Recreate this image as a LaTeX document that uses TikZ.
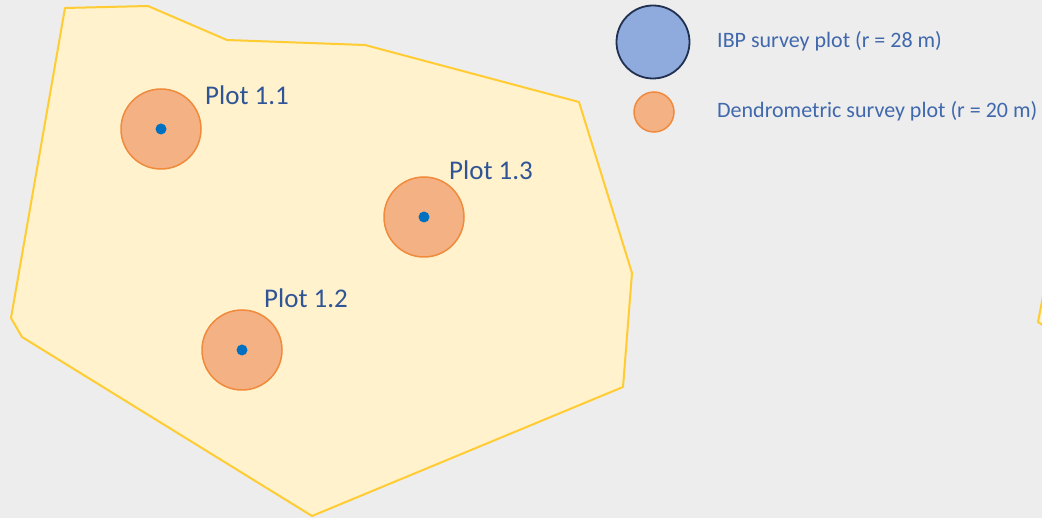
\documentclass[tikz,border=0pt]{standalone}
\usepackage{fontspec}
\setmainfont{Carlito}
\definecolor{bg}{HTML}{EDEDED}
\definecolor{areafill}{HTML}{FFF2CC}
\definecolor{areaedge}{HTML}{FFCC33}
\definecolor{plotfill}{HTML}{F4B183}
\definecolor{plotedge}{HTML}{F08A3C}
\definecolor{dotblue}{HTML}{0070C0}
\definecolor{ibpfill}{HTML}{8FAADC}
\definecolor{ibpedge}{HTML}{1F3050}
\definecolor{labelblue}{HTML}{2F5597}
\definecolor{legendblue}{HTML}{4068AC}
\begin{document}
\begin{tikzpicture}[x=1pt,y=-1pt,
  area/.style={fill=areafill,draw=areaedge,line width=2pt,line join=round},
  dplot/.style={circle,fill=plotfill,draw=plotedge,line width=1.5pt,minimum size=80pt,inner sep=0pt},
  cdot/.style={circle,fill=dotblue,minimum size=11pt,inner sep=0pt},
  ibp/.style={circle,fill=ibpfill,draw=ibpedge,line width=1.8pt,minimum size=73pt,inner sep=0pt},
  plotlabel/.style={text=labelblue,font=\fontsize{27}{31}\selectfont,inner sep=0pt,anchor=west},
  legendtext/.style={text=legendblue,font=\fontsize{22}{26}\selectfont,inner sep=0pt,anchor=west}]
\fill[bg] (0,0) rectangle (1042,518);
\useasboundingbox (0,0) rectangle (1042,518);
\begin{scope}
\clip (0,0) rectangle (1042,518);
\draw[area] (1050,290) -- (1043,296) -- (1038,322) -- (1050,330) -- cycle;
\end{scope}
\draw[area] (65,8) -- (148,6) -- (227,40) -- (365,45) -- (579,102) -- (632,273) -- (623,387) -- (312,516) -- (22,337) -- (11,318) -- cycle;
\node[dplot] (p11) at (161,129) {};
\node[cdot] (d11) at (p11.center) {};
\node[plotlabel] (l11) at (205,95) {Plot 1.1};
\node[dplot] (p13) at (424,217) {};
\node[cdot] (d13) at (p13.center) {};
\node[plotlabel] (l13) at (449,170) {Plot 1.3};
\node[dplot] (p12) at (242,350) {};
\node[cdot] (d12) at (p12.center) {};
\node[plotlabel] (l12) at (264,298) {Plot 1.2};
\node[ibp] (lg1) at (653,42) {};
\node[legendtext] (lt1) at (717,41) {IBP survey plot (r = 28 m)};
\node[dplot,minimum size=40pt] (lg2) at (654,112) {};
\node[legendtext] (lt2) at (717,111) {Dendrometric survey plot (r = 20 m)};
\end{tikzpicture}
\end{document}
